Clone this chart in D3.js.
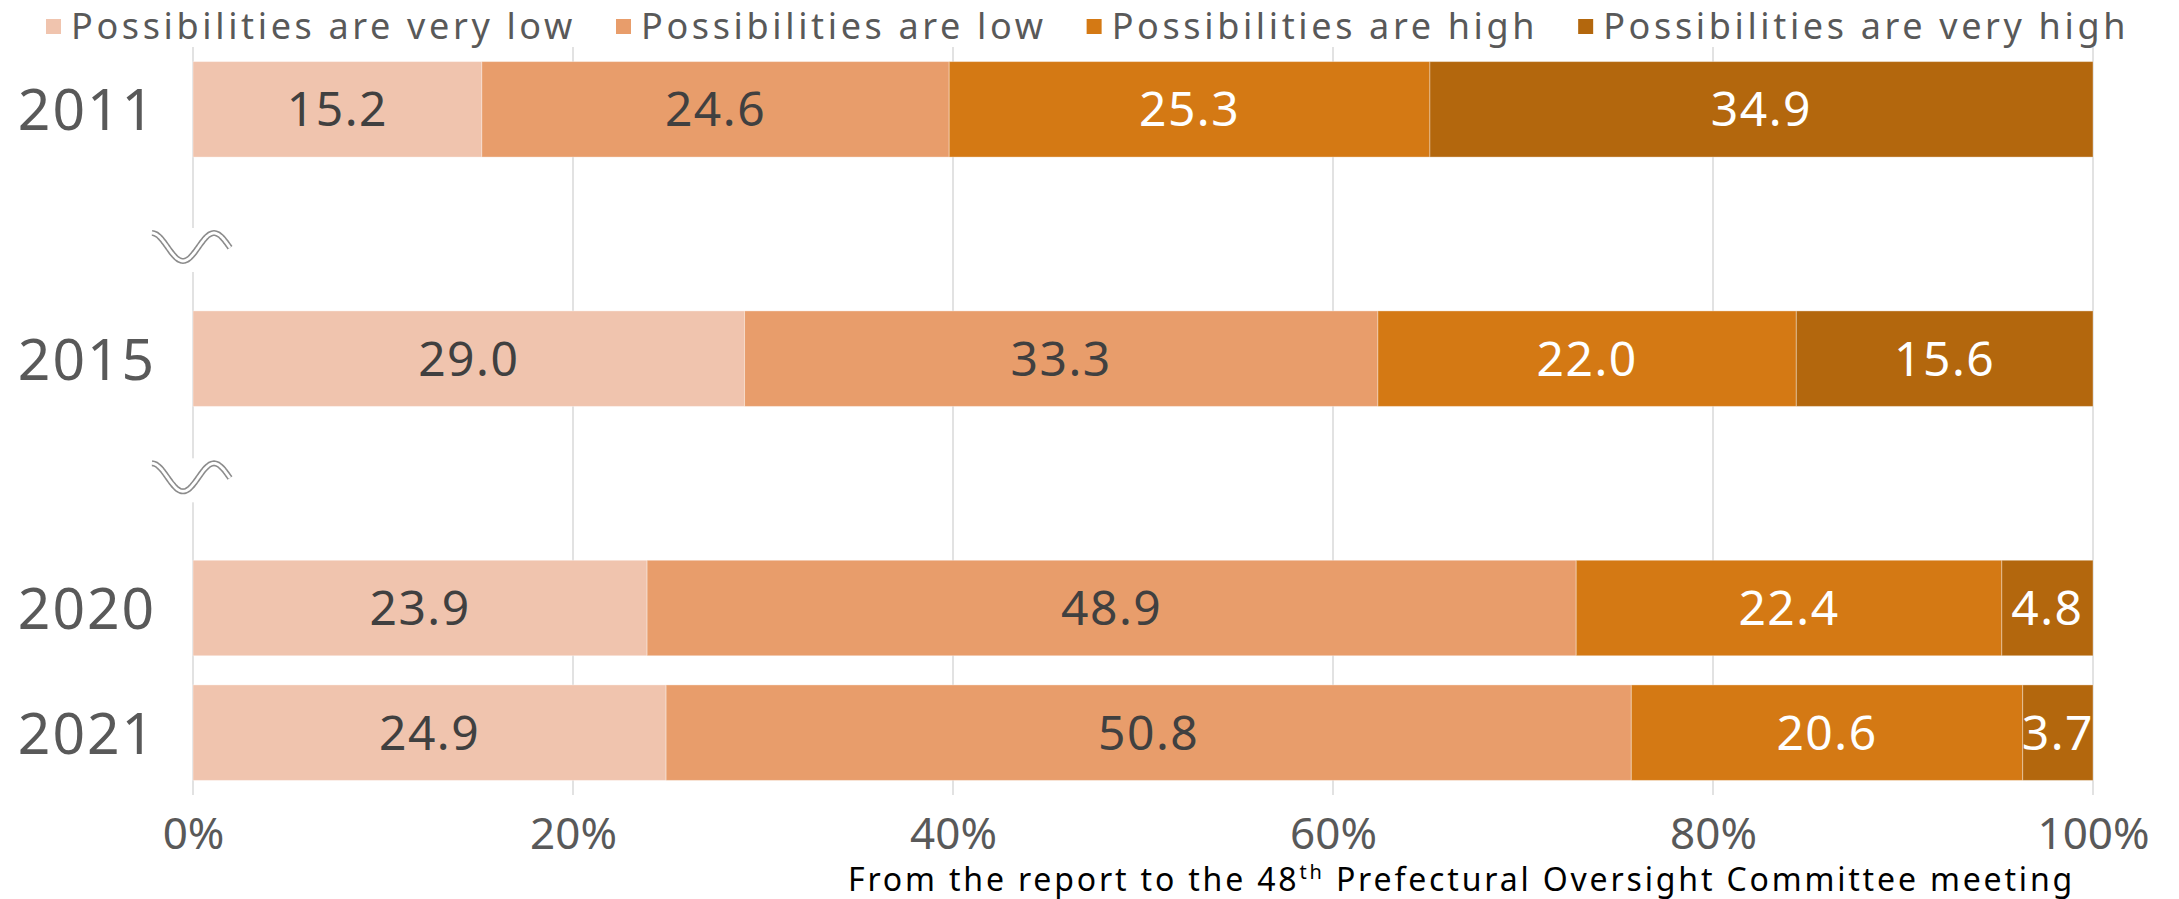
<!DOCTYPE html>
<html>
<head>
<meta charset="utf-8">
<script src="https://cdn.jsdelivr.net/npm/d3@7"></script>
<style>
  html, body { margin: 0; padding: 0; background: #fff; }
  svg { display: block; }
  text { font-family: "Noto Sans", "Open Sans", sans-serif; }
</style>
</head>
<body>
<svg id="chart" width="2179" height="899"></svg>
<script>
// ---- data ----
const years = ["2011", "2015", "2020", "2021"];
const seriesNames = [
  "Possibilities are very low",
  "Possibilities are low",
  "Possibilities are high",
  "Possibilities are very high"
];
const veryLow  = [15.2, 29.0, 23.9, 24.9];
const low      = [24.6, 33.3, 48.9, 50.8];
const high     = [25.3, 22.0, 22.4, 20.6];
const veryHigh = [34.9, 15.6, 4.8, 3.7];
const tickValues = [0, 20, 40, 60, 80, 100];
const tickLabels = ["0%", "20%", "40%", "60%", "80%", "100%"];
const slots = ["2011", "gap1", "2015", "gap2", "2020", "2021"];
const breaks = ["gap1", "gap2"];
const footnoteMain = "From the report to the 48";
const footnoteSup = "th";
const footnoteRest = " Prefectural Oversight Committee meeting";

// ---- styles ----
const colors = ["#F0C4AE", "#E89D6B", "#D47914", "#B3670D"];
const labelColors = ["#404040", "#404040", "#FFFFFF", "#FFFFFF"];
const textGray = "#595959";

const svg = d3.select("#chart");
const margin = { left: 193, right: 86, top: 47, bottom: 104 };
const W = 2179, H = 899;

const x = d3.scaleLinear().domain([0, 100]).range([margin.left, W - margin.right]);
const y = d3.scaleBand().domain(slots).range([margin.top, H - margin.bottom])
  .paddingInner(0.234).paddingOuter(0.117);

const allSeries = [veryLow, low, high, veryHigh];
const rows = years.map((yr, i) => {
  const obj = { year: yr };
  seriesNames.forEach((s, j) => obj[s] = allSeries[j][i]);
  obj.total = d3.sum(allSeries, a => a[i]);
  return obj;
});
// normalize to 100% like a 100%-stacked bar
const normRows = rows.map(r => {
  const o = { year: r.year };
  seriesNames.forEach(s => o[s] = r[s] / r.total * 100);
  return o;
});
const stack = d3.stack().keys(seriesNames)(normRows);

// gridlines
svg.append("g").selectAll("line").data(tickValues).join("line")
  .attr("x1", d => x(d)).attr("x2", d => x(d))
  .attr("y1", margin.top).attr("y2", H - margin.bottom)
  .attr("stroke", "#D9D9D9").attr("stroke-width", 1.5);

// axis labels
const xAxis = d3.axisBottom(x).tickValues(tickValues)
  .tickFormat((d, i) => tickLabels[i]).tickSize(0).tickPadding(0);
const gx = svg.append("g").attr("transform", `translate(0,${H - margin.bottom})`).call(xAxis);
gx.select(".domain").remove();
gx.selectAll("text")
  .attr("dy", null).attr("y", 54)
  .attr("font-size", 44).attr("fill", textGray)
  .attr("font-family", "'Noto Sans', sans-serif");

// bars
const layers = svg.append("g").selectAll("g").data(stack).join("g")
  .attr("fill", (d, i) => colors[i]);
layers.selectAll("rect").data(d => d).join("rect")
  .attr("x", d => x(d[0]))
  .attr("width", d => x(d[1]) - x(d[0]))
  .attr("y", d => y(d.data.year))
  .attr("height", y.bandwidth())
  .attr("stroke", "rgba(255,255,255,0.35)")
  .attr("stroke-width", 1);

// value labels
stack.forEach((layer, i) => {
  svg.append("g").selectAll("text").data(layer).join("text")
    .attr("x", d => (x(d[0]) + x(d[1])) / 2)
    .attr("y", d => y(d.data.year) + y.bandwidth() / 2 + 17)
    .attr("text-anchor", "middle")
    .attr("font-size", 48)
    .attr("letter-spacing", 1.5)
    .attr("fill", labelColors[i])
    .text((d, k) => allSeries[i][k].toFixed(1));
});

// year labels
svg.append("g").selectAll("text").data(years).join("text")
  .attr("x", x(0) - 106)
  .attr("y", d => y(d) + y.bandwidth() / 2 + 21)
  .attr("text-anchor", "middle")
  .attr("font-size", 57)
  .attr("letter-spacing", 2)
  .attr("fill", textGray)
  .text(d => d);

// break marks (wavy double line over the category axis)
const breakOffsets = [13, -6];
breaks.forEach((b, i) => {
  const cy = y(b) + y.bandwidth() / 2 + breakOffsets[i];
  const x0 = x(0) - 41, x1 = x(0) + 37, period = 62, amp = 14;
  const pts = d3.range(x0, x1 + 0.5, 1).map(px => [px, cy - amp * Math.cos(2 * Math.PI * (px - x0) / period)]);
  const line = d3.line().curve(d3.curveBasis);
  svg.append("rect").attr("x", x(0) - 5).attr("y", cy - 19).attr("width", 10).attr("height", 44).attr("fill", "#fff");
  svg.append("path").attr("d", line(pts)).attr("fill", "none").attr("stroke", "#8c8c8c").attr("stroke-width", 6);
  svg.append("path").attr("d", line(pts)).attr("fill", "none").attr("stroke", "#fff").attr("stroke-width", 2.8);
});

// legend
const legendTargetFirst = 505;
const lg = svg.append("g");
let lx = 46;
let spacing = null;
seriesNames.forEach((s, i) => {
  lg.append("rect").attr("x", lx).attr("y", 19).attr("width", 15).attr("height", 15).attr("fill", colors[i]);
  const t = lg.append("text").attr("x", lx + 25).attr("y", 39)
    .attr("font-size", 36).attr("fill", textGray).text(s);
  if (spacing === null) {
    const nat = t.node().getComputedTextLength();
    spacing = Math.max(0, (legendTargetFirst - nat) / s.length);
  }
  t.attr("letter-spacing", spacing);
  const w = t.node().getComputedTextLength();
  lx = lx + 25 + w + 40;
});

// footnote
const fn = svg.append("text").attr("x", 848).attr("y", 891)
  .attr("font-family", "'Liberation Sans', Arial, sans-serif")
  .attr("font-size", 32).attr("fill", "#000");
fn.append("tspan").text(footnoteMain);
fn.append("tspan").attr("font-size", 20).attr("dy", -12).text(footnoteSup);
fn.append("tspan").attr("dy", 12).text(footnoteRest);
const natFn = fn.node().getComputedTextLength();
const nChars = (footnoteMain + footnoteSup + footnoteRest).length;
fn.attr("letter-spacing", Math.max(0, (1227 - natFn) / nChars));
</script>
</body>
</html>
